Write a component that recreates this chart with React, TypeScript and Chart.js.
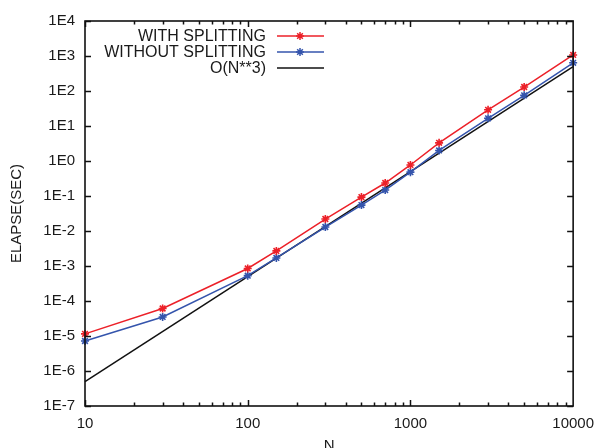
import React, { useEffect, useRef } from 'react';
import { Chart, registerables } from 'chart.js';

Chart.register(...registerables);

const N_VALUES = [10, 30, 100, 150, 300, 500, 700, 1000, 1500, 3000, 5000, 10000];
const WITH_SPLITTING = [1.15e-5, 6.1e-5, 8.5e-4, 2.7e-3, 0.022, 0.093, 0.235, 0.77, 3.3, 29, 130, 1070];
const WITHOUT_SPLITTING = [7.2e-6, 3.5e-5, 5.3e-4, 1.7e-3, 0.013, 0.055, 0.148, 0.48, 2.0, 16.6, 75, 640];
const ORDER_N3_N = [10, 10000];
const ORDER_N3 = [5e-7, 5e2];

const X_TICKS = [10, 100, 1000, 10000];
const X_TICK_LABELS = ['10', '100', '1000', '10000'];
const Y_TICKS = [1e-7, 1e-6, 1e-5, 1e-4, 1e-3, 1e-2, 1e-1, 1e0, 1e1, 1e2, 1e3, 1e4];
const Y_TICK_LABELS = ['1E-7', '1E-6', '1E-5', '1E-4', '1E-3', '1E-2', '1E-1', '1E0', '1E1', '1E2', '1E3', '1E4'];

const LABELS = ['WITH SPLITTING', 'WITHOUT SPLITTING', 'O(N**3)'];
const COLORS = ['rgb(236,32,40)', 'rgb(52,84,172)', '#111111'];

const FONT = '"Liberation Sans", Arial, Helvetica, sans-serif';
const TEXT_COLOR = '#1a1a1a';

function drawStar(ctx: CanvasRenderingContext2D, x: number, y: number, r: number, color: string) {
  ctx.save();
  ctx.strokeStyle = color;
  ctx.lineWidth = 1.5;
  ctx.beginPath();
  ctx.moveTo(x - r, y);
  ctx.lineTo(x + r, y);
  ctx.moveTo(x, y - r);
  ctx.lineTo(x, y + r);
  const d = r * 0.7071;
  ctx.moveTo(x - d, y - d);
  ctx.lineTo(x + d, y + d);
  ctx.moveTo(x - d, y + d);
  ctx.lineTo(x + d, y - d);
  ctx.stroke();
  ctx.restore();
}

const frameAndLegend = {
  id: 'frameAndLegend',
  afterDatasetsDraw(chart: any) {
    const { ctx, chartArea } = chart;
    const xs = chart.scales.x;
    const ys = chart.scales.y;
    const { left, right, top, bottom } = chartArea;
    ctx.save();
    ctx.strokeStyle = '#111';
    ctx.lineWidth = 1.5;
    ctx.beginPath();
    for (let dec = 10; dec < 10000; dec *= 10) {
      for (let m = 1; m <= 9; m++) {
        const v = dec * m;
        const px = Math.round(xs.getPixelForValue(v)) + 0.5;
        const len = m === 1 ? 6 : 3.5;
        ctx.moveTo(px, bottom);
        ctx.lineTo(px, bottom - len);
        ctx.moveTo(px, top);
        ctx.lineTo(px, top + len);
      }
    }
    for (const v of Y_TICKS) {
      const py = Math.round(ys.getPixelForValue(v)) + 0.5;
      ctx.moveTo(left, py);
      ctx.lineTo(left + 6, py);
      ctx.moveTo(right, py);
      ctx.lineTo(right - 6, py);
    }
    ctx.stroke();
    ctx.lineWidth = 1.6;
    ctx.strokeRect(left, top, right - left, bottom - top);

    ctx.font = '16px ' + FONT;
    ctx.fillStyle = TEXT_COLOR;
    ctx.textAlign = 'right';
    ctx.textBaseline = 'middle';
    chart.data.datasets.forEach((ds: any, i: number) => {
      const y = top + 15 + i * 16;
      ctx.fillText(ds.label, left + 181, y + 1);
      ctx.strokeStyle = ds.borderColor;
      ctx.lineWidth = 1.5;
      ctx.beginPath();
      ctx.moveTo(left + 192, y);
      ctx.lineTo(left + 239, y);
      ctx.stroke();
      if (ds.pointRadius > 0) drawStar(ctx, left + 215, y, 4, ds.borderColor);
    });
    ctx.restore();
  },
};

export default function App() {
  const ref = useRef<HTMLCanvasElement | null>(null);

  useEffect(() => {
    document.body.style.margin = '0';
    const canvas = ref.current;
    if (!canvas) return;
    const mk = (xv: number[], yv: number[]) => xv.map((x, i) => ({ x, y: yv[i] }));
    const chart = new Chart(canvas, {
      type: 'line',
      data: {
        datasets: [
          {
            label: LABELS[0],
            data: mk(N_VALUES, WITH_SPLITTING),
            borderColor: COLORS[0],
            backgroundColor: COLORS[0],
            borderWidth: 1.5,
            pointStyle: 'star',
            pointRadius: 4,
            pointBorderWidth: 1.6,
            pointBorderColor: COLORS[0],
            clip: false,
          },
          {
            label: LABELS[1],
            data: mk(N_VALUES, WITHOUT_SPLITTING),
            borderColor: COLORS[1],
            backgroundColor: COLORS[1],
            borderWidth: 1.5,
            pointStyle: 'star',
            pointRadius: 4,
            pointBorderWidth: 1.6,
            pointBorderColor: COLORS[1],
            clip: false,
          },
          {
            label: LABELS[2],
            data: mk(ORDER_N3_N, ORDER_N3),
            borderColor: COLORS[2],
            backgroundColor: COLORS[2],
            borderWidth: 1.5,
            pointRadius: 0,
            clip: false,
          },
        ],
      },
      options: {
        animation: false,
        responsive: false,
        events: [],
        layout: { padding: { top: 21, right: 26, left: 0, bottom: 0 } },
        plugins: { legend: { display: false }, tooltip: { enabled: false } },
        scales: {
          x: {
            type: 'logarithmic',
            min: 10,
            max: 10000,
            grid: { display: false, drawTicks: false },
            border: { display: false },
            afterBuildTicks: (scale: any) => {
              scale.ticks = X_TICKS.map((v) => ({ value: v }));
            },
            afterFit: (scale: any) => {
              scale.height = 42;
            },
            ticks: {
              autoSkip: false,
              maxRotation: 0,
              padding: 9,
              color: TEXT_COLOR,
              font: { family: FONT, size: 15 },
              callback: (value: any) => {
                const i = X_TICKS.indexOf(Number(value));
                return i >= 0 ? X_TICK_LABELS[i] : '';
              },
            },
            title: {
              display: true,
              text: 'N',
              color: TEXT_COLOR,
              font: { family: FONT, size: 15 },
              padding: { top: 0, bottom: -7 },
            },
          },
          y: {
            type: 'logarithmic',
            min: 1e-7,
            max: 1e4,
            grid: { display: false, drawTicks: false },
            border: { display: false },
            afterBuildTicks: (scale: any) => {
              scale.ticks = Y_TICKS.map((v) => ({ value: v }));
            },
            afterFit: (scale: any) => {
              scale.width = 85;
            },
            ticks: {
              autoSkip: false,
              padding: 10,
              color: TEXT_COLOR,
              font: { family: FONT, size: 15 },
              callback: (value: any) => {
                const v = Number(value);
                const i = Y_TICKS.findIndex((t) => Math.abs(Math.log10(t) - Math.log10(v)) < 1e-6);
                return i >= 0 ? Y_TICK_LABELS[i] : '';
              },
            },
            title: {
              display: true,
              text: 'ELAPSE(SEC)',
              color: TEXT_COLOR,
              font: { family: FONT, size: 15 },
              padding: { top: 8, bottom: 0 },
            },
          },
        },
      },
      plugins: [frameAndLegend],
    } as any);
    return () => chart.destroy();
  }, []);

  return (
    <div style={{ position: 'absolute', left: 0, top: 0, width: 603, height: 448, background: '#fff' }}>
      <canvas ref={ref} width={603} height={448} style={{ display: 'block', width: 603, height: 448 }} />
    </div>
  );
}
